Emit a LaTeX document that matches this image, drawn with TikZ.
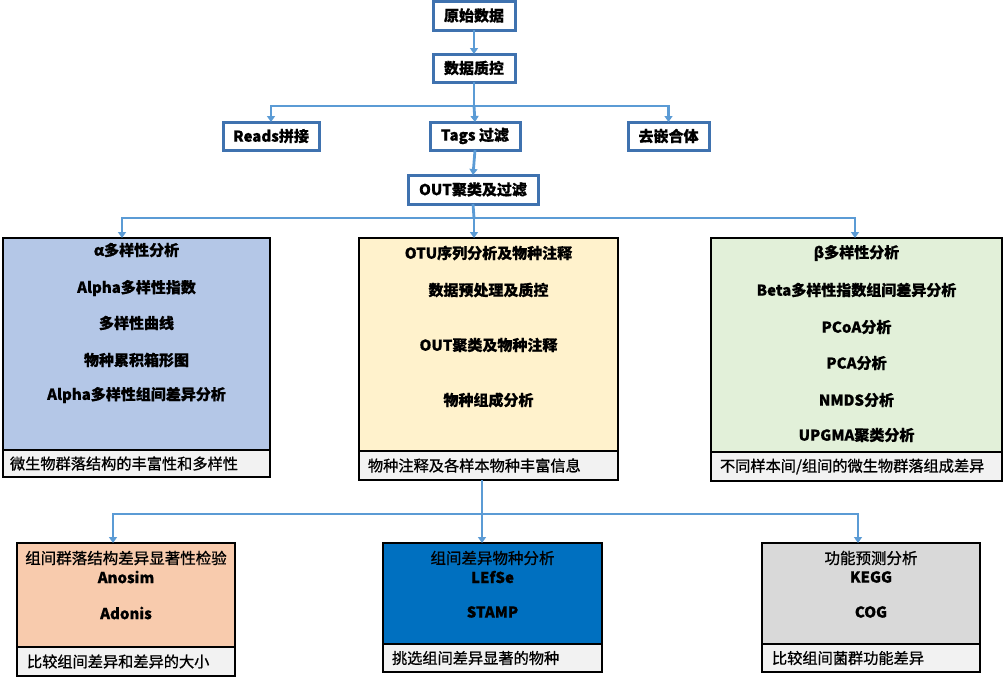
\documentclass[tikz,border=0pt]{standalone}
\usepackage{fontspec}
\setmainfont{Noto Sans CJK SC}[BoldFeatures={FakeBold=0.6}]
\newfontfamily\medfont{Noto Sans CJK SC}[FakeBold=0.9]
\usetikzlibrary{arrows.meta}
\definecolor{lineblue}{HTML}{5B9BD5}
\definecolor{frameblue}{HTML}{3F72AF}
\definecolor{alphafill}{HTML}{B4C7E7}
\definecolor{otufill}{HTML}{FFF2CC}
\definecolor{betafill}{HTML}{E2F0D9}
\definecolor{notefill}{HTML}{F2F2F2}
\definecolor{anosimfill}{HTML}{F8CBAD}
\definecolor{lefsefill}{HTML}{0070C0}
\definecolor{funcfill}{HTML}{D9D9D9}
\begin{document}
\begin{tikzpicture}[x=1pt,y=-1pt,
  every node/.style={inner sep=0pt, outer sep=0pt},
  stepbox/.style={draw=frameblue, line width=3pt, fill=white, font=\fontsize{15}{18}\selectfont\bfseries},
  panel/.style={draw=black, line width=2.5pt, fill=#1},
  note/.style={draw=black, line width=2.5pt, fill=notefill},
  bold/.style={font=\fontsize{15}{18}\selectfont\bfseries},
  plain/.style={font=\fontsize{15.5}{18}\selectfont\medfont},
  notetext/.style={font=\fontsize{15.2}{18}\selectfont\medfont, anchor=west},
  link/.style={draw=lineblue, line width=2.8pt},
  conn/.style={link, -{Triangle[width=8pt,length=6pt]}}]
\useasboundingbox (0,0) rectangle (1003,680);

% ---------- pipeline steps ----------
\node[stepbox, minimum width=82pt, minimum height=29pt] (raw) at (474,15.5) {原始数据};
\node[stepbox, minimum width=82pt, minimum height=28pt] (qc) at (474,68) {数据质控};
\node[stepbox, minimum width=96pt, minimum height=28pt] (reads) at (271,136) {Reads拼接};
\node[stepbox, minimum width=90pt, minimum height=28pt] (tags) at (475,136) {Tags 过滤};
\node[stepbox, minimum width=81pt, minimum height=28pt] (chim) at (668.5,136) {去嵌合体};
\node[stepbox, minimum width=130pt, minimum height=29pt] (otu) at (473,189.5) {OUT聚类及过滤};

\coordinate (j1) at (474,106);
\coordinate (j2) at (474,218);
\coordinate (j3) at (482,514);

\draw[conn] (raw.south) -- (qc.north);
\draw[link] (qc.south) -- (j1);
\draw[conn] (j1) -| (reads.north);
\draw[conn] (j1) -- (tags.north);
\draw[conn] (j1) -| (chim.north);
\draw[conn] (tags.south) -- (otu.north);

% ---------- analysis panels ----------
\node[panel=alphafill, minimum width=267pt, minimum height=212pt] (alpha) at (136.5,344) {};
\node[note, minimum width=267pt, minimum height=27pt, anchor=north] (alphanote) at (alpha.south) {};
\node[panel=otufill, minimum width=259pt, minimum height=213pt] (seq) at (488.5,344.5) {};
\node[note, minimum width=259pt, minimum height=29pt, anchor=north] (seqnote) at (seq.south) {};
\node[panel=betafill, minimum width=291pt, minimum height=214pt] (beta) at (856.5,345) {};
\node[note, minimum width=291pt, minimum height=29pt, anchor=north] (betanote) at (beta.south) {};

\draw[link] (otu.south) -- (j2);
\draw[conn] (j2) -| (alpha.north -| 122,0);
\draw[conn] (j2) -- (j2 |- seq.north);
\draw[conn] (j2) -| (beta.north -| 855,0);

\node[bold] (a1) at (136.5,250) {α多样性分析};
\node[bold] (a2) at (136.5,288) {Alpha多样性指数};
\node[bold] (a3) at (136.5,323) {多样性曲线};
\node[bold] (a4) at (136.5,360) {物种累积箱形图};
\node[bold] (a5) at (136.5,395) {Alpha多样性组间差异分析};
\node[notetext] (an) at (10,463.5) {微生物群落结构的丰富性和多样性};

\node[bold] (s1) at (488.5,253) {OTU序列分析及物种注释};
\node[bold] (s2) at (488.5,290) {数据预处理及质控};
\node[bold] (s3) at (488.5,345) {OUT聚类及物种注释};
\node[bold] (s4) at (488.5,400) {物种组成分析};
\node[notetext] (sn) at (368,465.5) {物种注释及各样本物种丰富信息};

\node[bold] (b1) at (856.5,253) {β多样性分析};
\node[bold] (b2) at (856.5,290) {Beta多样性指数组间差异分析};
\node[bold] (b3) at (856.5,327) {PCoA分析};
\node[bold] (b4) at (856.5,363) {PCA分析};
\node[bold] (b5) at (856.5,400) {NMDS分析};
\node[bold] (b6) at (856.5,435) {UPGMA聚类分析};
\node[notetext] (bn) at (720,466.5) {不同样本间/组间的微生物群落组成差异};

% ---------- group comparison panels ----------
\node[panel=anosimfill, minimum width=218pt, minimum height=104pt] (ano) at (126,595) {};
\node[note, minimum width=218pt, minimum height=29pt, anchor=north] (anonote) at (ano.south) {};
\node[panel=lefsefill, minimum width=219pt, minimum height=101pt] (lefse) at (492.5,593.5) {};
\node[note, minimum width=219pt, minimum height=28pt, anchor=north] (lefsenote) at (lefse.south) {};
\node[panel=funcfill, minimum width=218pt, minimum height=101pt] (func) at (871,593.5) {};
\node[note, minimum width=218pt, minimum height=28pt, anchor=north] (funcnote) at (func.south) {};

\draw[link] (seqnote.south -| j3) -- (j3);
\draw[conn] (j3) -| (ano.north -| 113,0);
\draw[conn] (j3) -- (j3 |- lefse.north);
\draw[conn] (j3) -| (func.north -| 858,0);

\node[plain] (c1) at (126,558) {组间群落结构差异显著性检验};
\node[bold] (c2) at (126,577) {Anosim};
\node[bold] (c3) at (126,613) {Adonis};
\node[notetext] (cn) at (27,661.5) {比较组间差异和差异的大小};

\node[plain] (d1) at (492.5,558) {组间差异物种分析};
\node[bold] (d2) at (492.5,577) {LEfSe};
\node[bold] (d3) at (492.5,612) {STAMP};
\node[notetext] (dn) at (392,658) {挑选组间差异显著的物种};

\node[plain] (e1) at (871,558) {功能预测分析};
\node[bold] (e2) at (871,577) {KEGG};
\node[bold] (e3) at (871,612) {COG};
\node[notetext] (en) at (772,658) {比较组间菌群功能差异};
\end{tikzpicture}
\end{document}
